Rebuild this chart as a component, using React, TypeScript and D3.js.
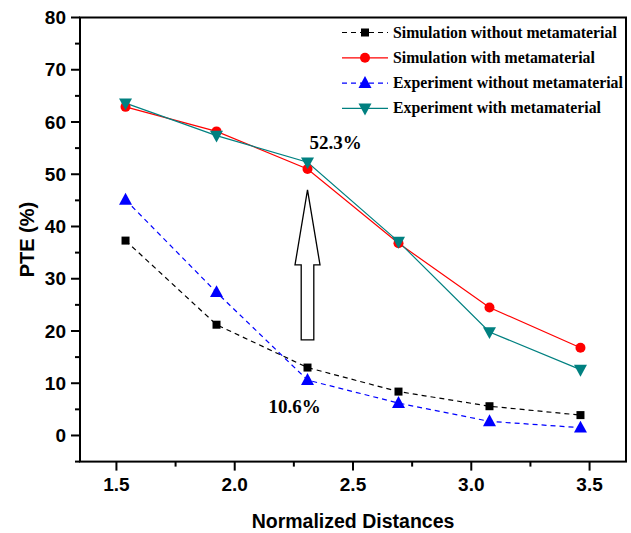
import React from "react";
import * as d3 from "d3";

const distances = [20 / 13, 25 / 13, 30 / 13, 35 / 13, 40 / 13, 45 / 13];
const simWithout = [37.3, 21.2, 13.0, 8.4, 5.6, 3.9];
const simWith = [62.9, 58.2, 51.0, 36.8, 24.5, 16.8];
const expWithout = [45.1, 27.4, 10.6, 6.2, 2.7, 1.5];
const expWith = [63.6, 57.4, 52.3, 37.1, 19.8, 12.6];
const xTicks = [1.5, 2.0, 2.5, 3.0, 3.5];
const yTicks = [0, 10, 20, 30, 40, 50, 60, 70, 80];
const seriesNames = [
  "Simulation without metamaterial",
  "Simulation with metamaterial",
  "Experiment without metamaterial",
  "Experiment with metamaterial",
];

const W = 631;
const H = 533;
const left = 80;
const right = 626;
const top = 17.5;
const bottom = 461.6;

type Series = {
  name: string;
  values: number[];
  color: string;
  dash: string | null;
  marker: "square" | "circle" | "tri" | "triDown";
};

const series: Series[] = [
  { name: seriesNames[0], values: simWithout, color: "#000000", dash: "5,4", marker: "square" },
  { name: seriesNames[1], values: simWith, color: "#ff0000", dash: null, marker: "circle" },
  { name: seriesNames[2], values: expWithout, color: "#0000ff", dash: "5,4", marker: "tri" },
  { name: seriesNames[3], values: expWith, color: "#008080", dash: null, marker: "triDown" },
];

function Marker({ kind, x, y, color }: { kind: string; x: number; y: number; color: string }) {
  if (kind === "square") return <rect x={x - 4} y={y - 4} width={8} height={8} fill={color} />;
  if (kind === "circle") return <circle cx={x} cy={y} r={5} fill={color} />;
  if (kind === "tri")
    return <path d={`M${x},${y - 7} L${x + 6.5},${y + 4.8} L${x - 6.5},${y + 4.8} Z`} fill={color} />;
  return <path d={`M${x},${y + 7} L${x + 6.5},${y - 4.8} L${x - 6.5},${y - 4.8} Z`} fill={color} />;
}

export default function App() {
  const x = d3.scaleLinear().domain([1.346, 3.654]).range([left, right]);
  const y = d3.scaleLinear().domain([-5, 80]).range([bottom, top]);
  const xMinor = d3.range(1.5, 3.6, 0.25);
  const yMinor = d3.range(-5, 81, 5);
  const line = d3
    .line<number>()
    .x((_, i) => x(distances[i]))
    .y((v) => y(v));

  const axisFont = "'Liberation Sans', Arial, sans-serif";
  const serif = "'Liberation Serif', 'Times New Roman', serif";

  // annotation (arrow) in data coordinates
  const ax = x(distances[2]);
  const arrowTip = y(47.0);
  const arrowBottom = y(18.3);
  const headBase = arrowTip + 75;
  const arrowPath = `M${ax},${arrowTip} L${ax + 12.5},${headBase} L${ax + 6.3},${headBase} L${ax + 6.3},${arrowBottom} L${ax - 6.3},${arrowBottom} L${ax - 6.3},${headBase} L${ax - 12.5},${headBase} Z`;

  const legX0 = 342;
  const legX1 = 388;
  const legY0 = 32.5;
  const legStep = 25.3;

  return (
    <svg width={W} height={H} style={{ position: "absolute", left: 0, top: 0, background: "#fff" }}>
      <rect x={0} y={0} width={W} height={H} fill="#fff" />
      {/* series lines */}
      {series.map((s) => (
        <path
          key={s.name + "l"}
          d={line(s.values) || ""}
          fill="none"
          stroke={s.color}
          strokeWidth={1.2}
          strokeDasharray={s.dash || undefined}
        />
      ))}
      {series.map((s) =>
        s.values.map((v, i) => (
          <Marker key={s.name + i} kind={s.marker} x={x(distances[i])} y={y(v)} color={s.color} />
        ))
      )}

      {/* arrow annotation */}
      <path d={arrowPath} fill="#fff" stroke="#000" strokeWidth={1.3} />
      <text x={ax + 28} y={149} textAnchor="middle" fontFamily={serif} fontWeight="bold" fontSize={19}>
        52.3%
      </text>
      <text x={ax - 13} y={413} textAnchor="middle" fontFamily={serif} fontWeight="bold" fontSize={19}>
        10.6%
      </text>

      {/* frame */}
      <rect x={left} y={top} width={right - left} height={bottom - top} fill="none" stroke="#000" strokeWidth={2} />

      {/* x ticks */}
      {xTicks.map((t) => (
        <g key={"xt" + t}>
          <line x1={x(t)} x2={x(t)} y1={bottom} y2={bottom + 9} stroke="#000" strokeWidth={2} />
          <text x={x(t)} y={491} textAnchor="middle" fontFamily={axisFont} fontWeight="bold" fontSize={19}>
            {t.toFixed(1)}
          </text>
        </g>
      ))}
      {xMinor
        .filter((t) => !xTicks.some((m) => Math.abs(m - t) < 1e-6))
        .map((t) => (
          <line key={"xm" + t} x1={x(t)} x2={x(t)} y1={bottom} y2={bottom + 5} stroke="#000" strokeWidth={2} />
        ))}

      {/* y ticks */}
      {yTicks.map((t) => (
        <g key={"yt" + t}>
          <line x1={left - 9} x2={left} y1={y(t)} y2={y(t)} stroke="#000" strokeWidth={2} />
          <text x={66} y={y(t) + 6.6} textAnchor="end" fontFamily={axisFont} fontWeight="bold" fontSize={19}>
            {t}
          </text>
        </g>
      ))}
      {yMinor
        .filter((t) => !yTicks.includes(t))
        .map((t) => (
          <line key={"ym" + t} x1={left - 5} x2={left} y1={y(t)} y2={y(t)} stroke="#000" strokeWidth={2} />
        ))}

      {/* axis titles */}
      <text x={(left + right) / 2} y={528} textAnchor="middle" fontFamily={axisFont} fontWeight="bold" fontSize={19.5}>
        Normalized Distances
      </text>
      <text
        transform={`translate(34,${(top + bottom) / 2}) rotate(-90)`}
        textAnchor="middle"
        fontFamily={axisFont}
        fontWeight="bold"
        fontSize={20}
      >
        PTE (%)
      </text>

      {/* legend */}
      {series.map((s, i) => {
        const ly = legY0 + i * legStep;
        return (
          <g key={"lg" + i}>
            <line x1={legX0} x2={legX1} y1={ly} y2={ly} stroke={s.color} strokeWidth={1.2} strokeDasharray={s.dash || undefined} />
            <Marker kind={s.marker} x={(legX0 + legX1) / 2} y={ly} color={s.color} />
            <text x={393} y={ly + 5} fontFamily={serif} fontWeight="bold" fontSize={15.8}>
              {s.name}
            </text>
          </g>
        );
      })}
    </svg>
  );
}
